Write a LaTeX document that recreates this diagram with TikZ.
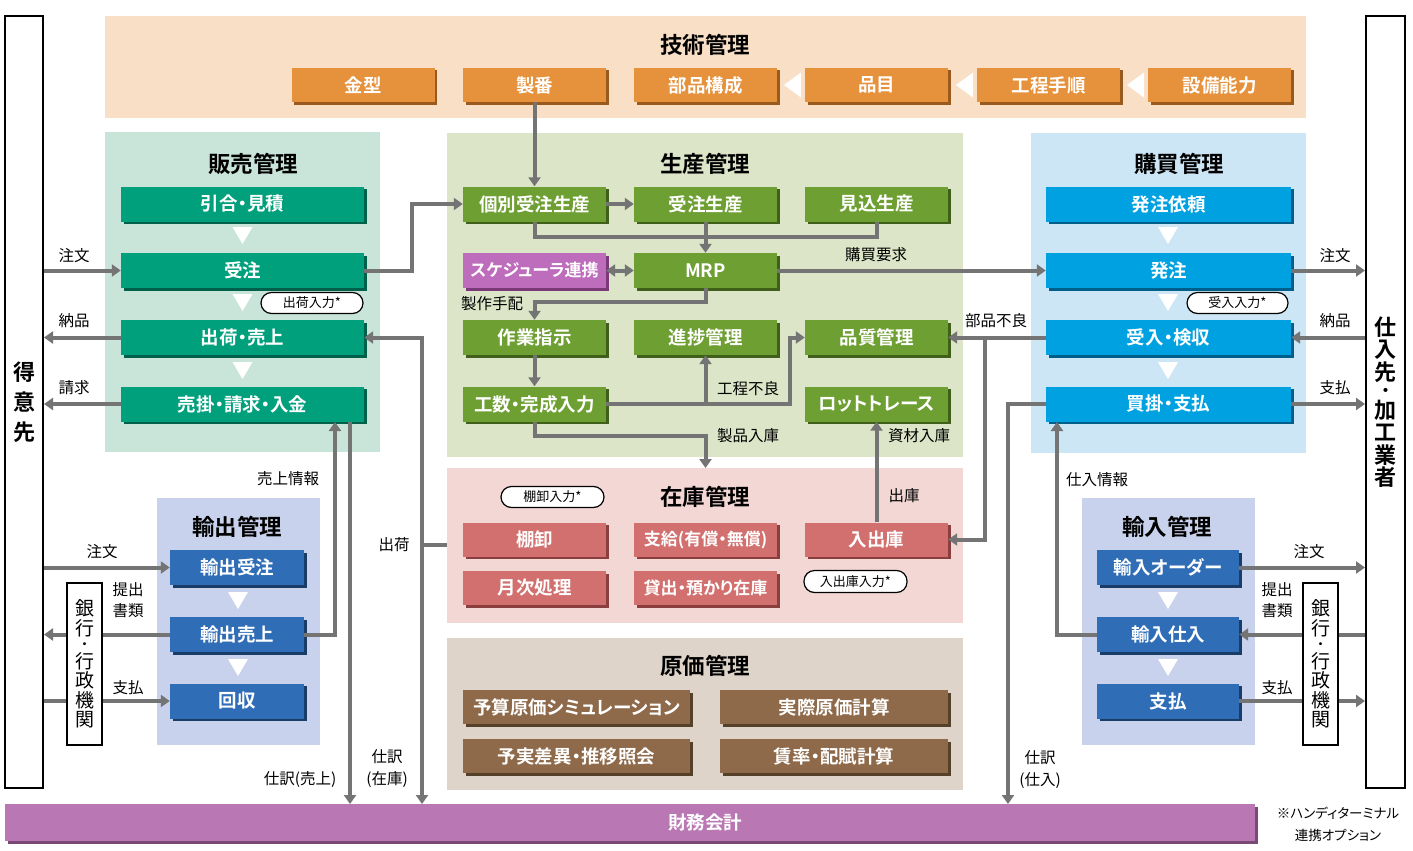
\documentclass[tikz,border=0pt]{standalone}
\usepackage{fontspec}
\setmainfont{Noto Sans CJK JP}[BoldFont={Noto Sans CJK JP Bold}, RawFeature=+palt]
\usetikzlibrary{arrows.meta,shadows}
\definecolor{cPeach}{HTML}{F9DFC6}
\definecolor{cOr}{HTML}{E6913B}
\definecolor{cOrD}{HTML}{9A5A1E}
\definecolor{cSalesP}{HTML}{C9E5DA}
\definecolor{cSales}{HTML}{00A07D}
\definecolor{cSalesD}{HTML}{00604A}
\definecolor{cProdP}{HTML}{DCE5C7}
\definecolor{cProd}{HTML}{6E9F32}
\definecolor{cProdD}{HTML}{3F5F1A}
\definecolor{cPurp}{HTML}{BE6CBC}
\definecolor{cPurpD}{HTML}{7A3A78}
\definecolor{cBuyP}{HTML}{CDE6F6}
\definecolor{cBuy}{HTML}{00A1E1}
\definecolor{cBuyD}{HTML}{005F8A}
\definecolor{cExP}{HTML}{C9D2EC}
\definecolor{cEx}{HTML}{2F6DB6}
\definecolor{cExD}{HTML}{1A3D68}
\definecolor{cInvP}{HTML}{F3D7D4}
\definecolor{cInv}{HTML}{D2706F}
\definecolor{cInvD}{HTML}{8A3F3E}
\definecolor{cCostP}{HTML}{DFD4C9}
\definecolor{cCost}{HTML}{8E6A4A}
\definecolor{cCostD}{HTML}{55402A}
\definecolor{cFin}{HTML}{B978B3}
\definecolor{cFinD}{HTML}{7A4A76}
\definecolor{cLine}{HTML}{747474}
\newcommand\ttlfnt{\bfseries\fontsize{22.5}{24}\selectfont}
\newcommand\boxfnt{\bfseries\fontsize{18.5}{20}\selectfont}
\newcommand\smbfnt{\bfseries\fontsize{17}{20}\selectfont}
\newcommand\lblfnt{\fontsize{15.5}{21.5}\selectfont}
\newcommand\pilfnt{\fontsize{13}{14}\selectfont}
\newcommand\dtri[2]{\fill[white] (#1-10,#2) -- (#1+10,#2) -- (#1,#2+17) -- cycle;}
\newcommand\ltri[2]{\fill[white] (#1,#2) -- (#1+17,#2-12.5) -- (#1+17,#2+12.5) -- cycle;}
\tikzset{
  bx/.style={inner sep=0pt, minimum height=35pt, minimum width=143pt, text=white, font=\boxfnt},
  sh/.style={drop shadow={shadow xshift=2.5pt,shadow yshift=-2.5pt,fill=#1,opacity=1}},
  obox/.style={bx, fill=cOr, sh=cOrD, minimum height=34pt},
  sbox/.style={bx, fill=cSales, sh=cSalesD, minimum width=243pt},
  pbox/.style={bx, fill=cProd, sh=cProdD},
  qbox/.style={bx, fill=cPurp, sh=cPurpD},
  bbox/.style={bx, fill=cBuy, sh=cBuyD, minimum width=245pt},
  ebox/.style={bx, fill=cEx, sh=cExD},
  ibox/.style={bx, fill=cInv, sh=cInvD, minimum height=34pt},
  cbox/.style={bx, fill=cCost, sh=cCostD, minimum height=34pt},
  ttl/.style={font=\ttlfnt, inner sep=0pt},
  lbl/.style={font=\lblfnt, inner sep=0pt, align=center},
  pill/.style={draw=black, line width=1.2pt, fill=white, rounded corners=10.5pt, minimum height=21pt, inner sep=0pt, font=\pilfnt},
  obx/.style={draw=black, line width=2pt, fill=white, inner sep=0pt, align=center},
  ln/.style={draw=cLine, line width=4pt},
  arr/.style={ln, -{Triangle[length=9pt,width=12pt]}},
  darr/.style={ln, {Triangle[length=9pt,width=12pt]}-{Triangle[length=9pt,width=12pt]}},
}
\begin{document}
\begin{tikzpicture}[x=1pt,y=-1pt]
\useasboundingbox (0,0) rectangle (1413,851);
\fill[white] (0,0) rectangle (1413,851);
% panels
\fill[cPeach] (105,16) rectangle (1306,118);
\fill[cSalesP] (105,132) rectangle (380,452);
\fill[cProdP] (447,133) rectangle (963,457);
\fill[cBuyP] (1031,133) rectangle (1306,453);
\fill[cExP] (157,498) rectangle (320,745);
\fill[cExP] (1082,498) rectangle (1255,745);
\fill[cInvP] (447,468) rectangle (963,623);
\fill[cCostP] (447,638) rectangle (963,790);
% titles
\node[ttl] (tTech) at (705,45) {技術管理};
\node[ttl] (tSales) at (253,164) {販売管理};
\node[ttl] (tProd) at (705,164) {生産管理};
\node[ttl] (tBuy) at (1179,164) {購買管理};
\node[ttl] (tEx) at (237,527) {輸出管理};
\node[ttl] (tIm) at (1167,527) {輸入管理};
\node[ttl] (tInv) at (705,497) {在庫管理};
\node[ttl] (tCost) at (705,666) {原価管理};
% outer boxes
\node[obx, minimum width=38pt, minimum height=772pt, font=\bfseries\fontsize{22}{30}\selectfont] (tokui) at (24,402) {得\\意\\先};
\node[obx, minimum width=39pt, minimum height=772pt, font=\bfseries\fontsize{22}{22.5}\selectfont] (shiire) at (1385.5,402) {仕\\入\\先\\[-5.8pt]{\fontsize{16}{16}\selectfont ・}\\[-1.2pt]加\\工\\業\\者};
% tech boxes
\node[obox] (kanagata) at (363,85) {金型};
\node[obox] (seiban) at (534.5,85) {製番};
\node[obox] (buhin) at (705.5,85) {部品構成};
\node[obox] (hinmoku) at (876.5,85) {品目};
\node[obox] (koutei) at (1048.5,85) {工程手順};
\node[obox] (setsubi) at (1219.5,85) {設備能力};
\ltri{784}{85}
\ltri{956}{85}
\ltri{1127}{85}
% sales boxes
\node[sbox] (hikiai) at (242.5,204) {引合・見積};
\node[sbox] (juchu) at (242.5,270.5) {受注};
\node[sbox] (shukka) at (242.5,337.5) {出荷・売上};
\node[sbox] (urikake) at (242.5,404) {売掛・請求・入金};
\dtri{242.5}{227}
\dtri{242.5}{294}
\dtri{242.5}{362}
\node[pill, minimum width=102pt] (pShukka) at (312,303) {出荷入力*};
% production boxes
\node[pbox] (kobetsu) at (534.5,204) {個別受注生産};
\node[pbox] (juchuseisan) at (705.5,204) {受注生産};
\node[pbox] (mikomi) at (876.5,204) {見込生産};
\node[qbox, font=\smbfnt] (sched) at (534.5,270.5) {スケジューラ連携};
\node[pbox] (mrp) at (705.5,270.5) {MRP};
\node[pbox] (sagyo) at (534.5,337.5) {作業指示};
\node[pbox] (shinchoku) at (705.5,337.5) {進捗管理};
\node[pbox] (hinshitsu) at (876.5,337.5) {品質管理};
\node[pbox] (kosu) at (534.5,404) {工数・完成入力};
\node[pbox] (lot) at (876.5,404) {ロットトレース};
% purchase boxes
\node[bbox] (hatchuirai) at (1168.5,204) {発注依頼};
\node[bbox] (hatchu) at (1168.5,270.5) {発注};
\node[bbox] (ukeire) at (1168.5,337.5) {受入・検収};
\node[bbox] (kaikake) at (1168.5,404) {買掛・支払};
\dtri{1168}{227}
\dtri{1168}{294}
\dtri{1168}{362}
\node[pill, minimum width=101pt] (pUkeire) at (1237.5,303) {受入入力*};
% inventory boxes
\node[ibox] (tanaoroshi) at (534.5,539.5) {棚卸};
\node[ibox, font=\smbfnt] (shikyu) at (705.5,539.5) {支給(有償・無償)};
\node[ibox] (nyushukko) at (876.5,539.5) {入出庫};
\node[ibox] (getsuji) at (534.5,588) {月次処理};
\node[ibox, font=\smbfnt] (kashidashi) at (705.5,588) {貸出・預かり在庫};
\node[pill, minimum width=103pt] (pTana) at (552.5,497) {棚卸入力*};
\node[pill, minimum width=103pt, minimum height=22pt] (pNyu) at (855.5,581.5) {入出庫入力*};
% cost boxes
\node[cbox, minimum width=227pt] (yosan) at (576.5,707) {予算原価シミュレーション};
\node[cbox, minimum width=228pt] (jissai) at (834,707) {実際原価計算};
\node[cbox, minimum width=227pt] (yojitsu) at (576.5,756) {予実差異・推移照会};
\node[cbox, minimum width=228pt] (chinritsu) at (834,756) {賃率・配賦計算};
% export boxes
\node[ebox, minimum width=134pt] (exjuchu) at (237,567.5) {輸出受注};
\node[ebox, minimum width=134pt] (exuri) at (237,634.5) {輸出売上};
\node[ebox, minimum width=134pt] (kaishu) at (237,701) {回収};
\dtri{238}{592}
\dtri{238}{659}
% import boxes
\node[ebox, minimum width=142pt] (imorder) at (1168,567.5) {輸入オーダー};
\node[ebox, minimum width=142pt] (imshiire) at (1168,634.5) {輸入仕入};
\node[ebox, minimum width=142pt] (imshiharai) at (1168,701) {支払};
\dtri{1168}{592}
\dtri{1168}{659}
% finance bar
\node[fill=cFin, sh=cFinD, minimum width=1250pt, minimum height=37pt, inner sep=0pt] (zaimu) at (630,822.5) {};
\node[font=\boxfnt, text=white, inner sep=0pt] (zaimuT) at (705,822.5) {財務会計};
% coordinates
\coordinate (fS) at (350,804);
\coordinate (fZ) at (422,804);
\coordinate (fP) at (1008,804);
\coordinate (zkL) at (447,545);
\coordinate (zkT) at (705.5,468);
\coordinate (uS) at (335,422);
\coordinate (kS) at (1057,422);
\coordinate (bv) at (985,337.5);
% connectors: sales
\draw[arr] (tokui.east |- juchu.west) -- (juchu.west);
\draw[arr] (shukka.west) -- (tokui.east |- shukka.west);
\draw[arr] (urikake.west) -- (tokui.east |- urikake.west);
\draw[arr] (juchu.east) -- (412,270.5) |- (kobetsu.west);
\draw[arr] (urikake.south -| fS) -- (fS);
\draw[darr] (shukka.east) -- (shukka.east -| fZ) -- (fZ);
\draw[ln] (zkL) -- (zkL -| fZ);
\draw[arr] (exuri.east) -| (uS);
% export
\draw[arr] (tokui.east |- exjuchu.west) -- (exjuchu.west);
\draw[arr] (exuri.west) -- (tokui.east |- exuri.west);
\draw[arr] (tokui.east |- kaishu.west) -- (kaishu.west);
% production
\draw[arr] (seiban.south) -- (kobetsu.north);
\draw[arr] (kobetsu.east) -- (juchuseisan.west);
\draw[ln] (kobetsu.south) -- ++(0,15) -| (mikomi.south);
\draw[arr] (juchuseisan.south) -- (mrp.north);
\draw[darr] (sched.east) -- (mrp.west);
\draw[arr] (mrp.east) -- (hatchu.west);
\draw[arr] (mrp.south) -- ++(0,14) -| (sagyo.north);
\draw[arr] (sagyo.south) -- (kosu.north);
\draw[arr] (kosu.east) -- (790,404) |- (hinshitsu.west);
\draw[arr] (shinchoku.south |- kosu.east) -- (shinchoku.south);
\draw[arr] (kosu.south) -- ++(0,14) -| (zkT);
\draw[arr] (nyushukko.north) -- (lot.south);
% purchase
\draw[arr] (ukeire.west) -- (hinshitsu.east);
\draw[arr] (bv) |- (nyushukko.east);
\draw[arr] (kaikake.west) -| (fP);
\draw[arr] (imshiire.west) -| (kS);
\draw[arr] (hatchu.east) -- (shiire.west |- hatchu.east);
\draw[arr] (shiire.west |- ukeire.east) -- (ukeire.east);
\draw[arr] (kaikake.east) -- (shiire.west |- kaikake.east);
% import
\draw[arr] (imorder.east) -- (shiire.west |- imorder.east);
\draw[arr] (shiire.west |- imshiire.east) -- (imshiire.east);
\draw[arr] (imshiharai.east) -- (shiire.west |- imshiharai.east);
% bank boxes
\node[obx, line width=1.6pt, minimum width=35pt, minimum height=162pt, font=\fontsize{19}{19.5}\selectfont] (ginkoL) at (84.5,664) {銀\\行\\[-4.9pt]{\fontsize{14}{14}\selectfont ・}\\[-1.1pt]行\\政\\機\\関};
\node[obx, line width=1.6pt, minimum width=35pt, minimum height=162pt, font=\fontsize{19}{19.5}\selectfont] (ginkoR) at (1320.5,664) {銀\\行\\[-4.9pt]{\fontsize{14}{14}\selectfont ・}\\[-1.1pt]行\\政\\機\\関};
% labels
\node[lbl] (l1) at (74,256) {注文};
\node[lbl] (l2) at (74,321) {納品};
\node[lbl] (l3) at (74,388) {請求};
\node[lbl] (l4) at (1335,256) {注文};
\node[lbl] (l5) at (1335,321) {納品};
\node[lbl] (l6) at (1335,388) {支払};
\node[lbl] (l7) at (876,255) {購買要求};
\node[lbl] (l8) at (492,304) {製作手配};
\node[lbl] (l9) at (748,389) {工程不良};
\node[lbl] (l10) at (748,436) {製品入庫};
\node[lbl] (l11) at (919,436) {資材入庫};
\node[lbl] (l12) at (904,496) {出庫};
\node[lbl] (l13) at (996,321) {部品不良};
\node[lbl] (l14) at (288,479) {売上情報};
\node[lbl] (l15) at (1097,480) {仕入情報};
\node[lbl] (l16) at (394,545) {出荷};
\node[lbl] (l17) at (300,779) {仕訳(売上)};
\node[lbl] (l18) at (387,768.5) {仕訳\\(在庫)};
\node[lbl] (l19) at (1040,769.5) {仕訳\\(仕入)};
\node[lbl] (l20) at (102,552) {注文};
\node[lbl] (l21) at (128,600) {提出\\書類};
\node[lbl] (l22) at (128,688) {支払};
\node[lbl] (l23) at (1309,552) {注文};
\node[lbl] (l24) at (1277,600) {提出\\書類};
\node[lbl] (l25) at (1277,688) {支払};
\node[lbl, font=\fontsize{13.5}{22}\selectfont] (note) at (1338,824) {※ハンディターミナル\\連携オプション};
\end{tikzpicture}
\end{document}
